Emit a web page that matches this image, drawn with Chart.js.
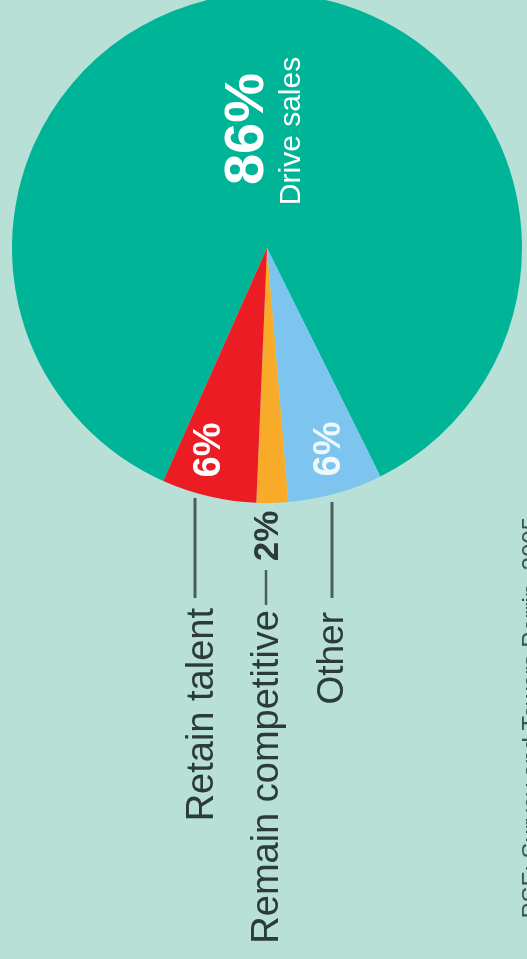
<!DOCTYPE html>
<html>
<head>
<meta charset="utf-8">
<script src="https://cdn.jsdelivr.net/npm/chart.js@4"></script>
<style>
  html, body { margin: 0; padding: 0; background: #b8e0d7; overflow: hidden; }
  #wrap { position: absolute; left: 0; top: -7px; width: 527px; height: 966px; }
</style>
</head>
<body>
<div id="wrap"><canvas id="pie" width="527" height="966"></canvas></div>
<script>
// slices, clockwise from the green one
const labels = ['Drive sales', 'Other', 'Remain competitive', 'Retain talent'];
const shares = [86, 6, 2, 6];
const colors = ['#00b597', '#7dc5ee', '#f8ab28', '#ec1c24'];
const source = 'PSF: Survey and Towers Perrin, 2005';

const bg = '#b8e0d7';
const ink = '#2c3b38';
const lineInk = '#4b5e5a';

// everything is printed sideways (reads bottom to top)
function sideText(ctx, txt, x, y, font, color, align) {
    ctx.save();
    ctx.translate(x, y);
    ctx.rotate(-Math.PI / 2);
    ctx.font = font;
    ctx.fillStyle = color;
    ctx.textAlign = align || 'center';
    ctx.textBaseline = 'alphabetic';
    ctx.fillText(txt, 0, 0);
    ctx.restore();
}

function vline(ctx, x, y1, y2, w) {
    ctx.save();
    ctx.strokeStyle = lineInk;
    ctx.lineWidth = w;
    ctx.beginPath();
    ctx.moveTo(x, y1);
    ctx.lineTo(x, y2);
    ctx.stroke();
    ctx.restore();
}

const annotations = {
    id: 'annotations',
    afterDraw(chart) {
        const ctx = chart.ctx;
        ctx.save();
        ctx.translate(0, 7); // canvas sits 7px above the page
        const f = 'Liberation Sans, Arial, sans-serif';

        // inside the slices
        sideText(ctx, shares[0] + '%', 263, 129, 'bold 56px ' + f, '#ffffff');
        sideText(ctx, labels[0], 300, 131, '30px ' + f, '#ffffff');
        sideText(ctx, shares[3] + '%', 220, 450, 'bold 38px ' + f, '#ffffff');
        sideText(ctx, shares[1] + '%', 340, 449, 'bold 38px ' + f, '#eef7fc');

        // callouts below the pie
        vline(ctx, 195, 498, 598, 3);
        vline(ctx, 332, 502, 598, 3);
        vline(ctx, 266, 570, 605, 2.5);
        sideText(ctx, shares[2] + '%', 278, 536, 'bold 35px ' + f, ink);
        sideText(ctx, labels[3], 213, 608, '38px ' + f, ink, 'right');
        sideText(ctx, labels[2], 278, 610, '38px ' + f, ink, 'right');
        sideText(ctx, labels[1], 343, 612, '37px ' + f, ink, 'right');

        // source line, mostly cut off by the right edge
        sideText(ctx, source, 539, 517, '24px ' + f, '#3d5350', 'right');
        ctx.restore();
    }
};

new Chart(document.getElementById('pie'), {
    type: 'pie',
    data: {
        labels: labels,
        datasets: [{
            data: shares,
            backgroundColor: colors,
            borderWidth: 0
        }]
    },
    options: {
        responsive: false,
        animation: false,
        devicePixelRatio: 1,
        rotation: 204,
        layout: { padding: { left: 12, right: 5, top: 0, bottom: 456 } },
        plugins: {
            legend: { display: false },
            tooltip: { enabled: false }
        }
    },
    plugins: [annotations]
});
</script>
</body>
</html>
